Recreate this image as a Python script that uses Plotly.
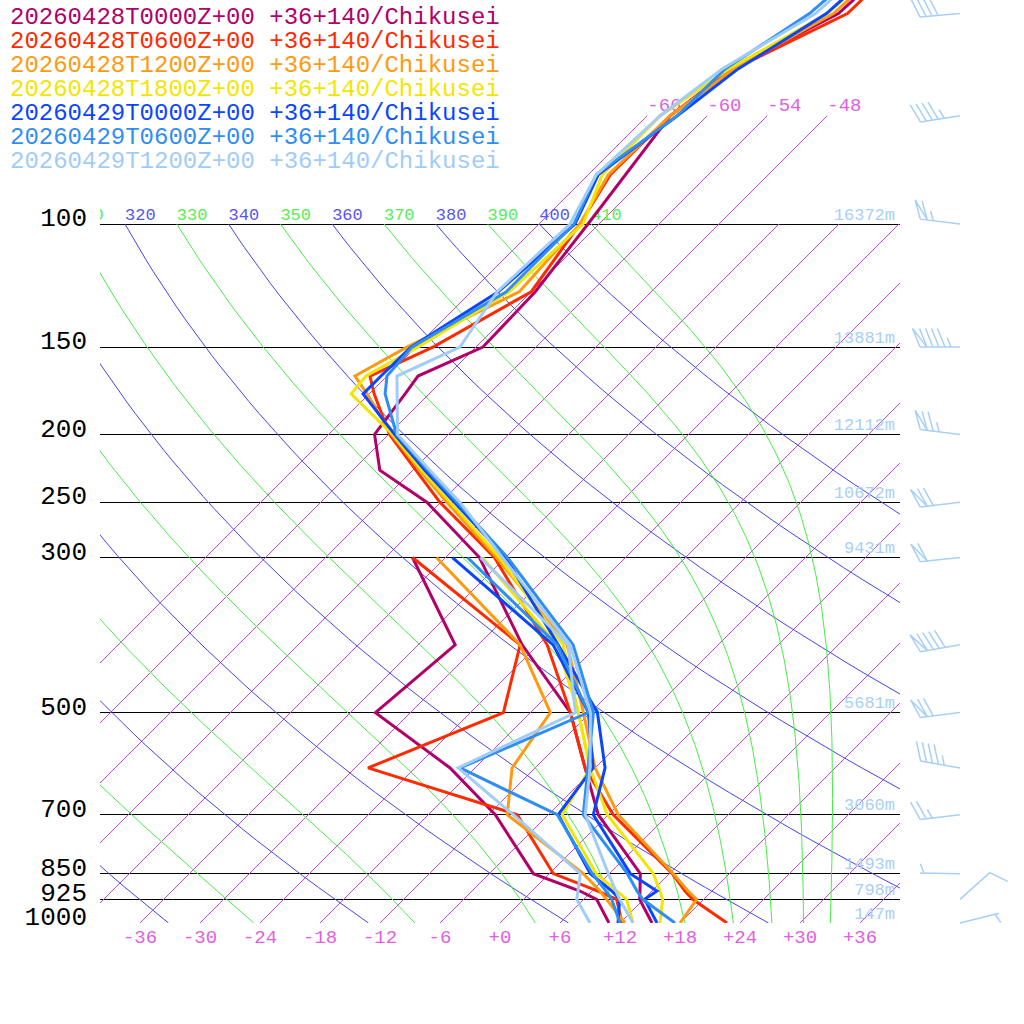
import numpy as np
import plotly.graph_objects as go

# pressure levels (hPa) of the temperature profiles
LEVELS = [1000, 925, 900, 850, 700, 600, 500, 400, 300, 250, 225, 200,
          175, 165, 150, 125, 100, 85, 70, 60, 50, 30]
# dew point is only given up to 300 hPa
DEW_LEVELS = [1000, 925, 900, 850, 700, 600, 500, 400, 300]

RUNS = ["20260428T0000Z+00", "20260428T0600Z+00", "20260428T1200Z+00",
        "20260428T1800Z+00", "20260429T0000Z+00", "20260429T0600Z+00",
        "20260429T1200Z+00"]
STATION = "+36+140/Chikusei"
COLORS = ["#b0006a", "#ff2a00", "#ff9a10", "#f2e600", "#0a46ff", "#2e8ef2", "#a2ccf8"]

# temperature (C)
T_0428_00 = [15.2, 11.6, 10.8, 9.1, -1.0, -7.0, -14.0, -25.6, -38.6, -49.4, -57.3, -61.4,
             -62.4, -62.9, -59.3, -59.6, -61.1, -62.3, -63.7, -62.3, -57.1, -55.5]
T_0428_06 = [22.7, 16.9, 15.3, 12.3, 0.5, -7.0, -14.0, -23.1, -37.1, -48.1, -53.7, -59.9,
             -65.5, -67.7, -64.3, -60.0, -61.9, -63.8, -63.7, -62.0, -56.2, -55.5]
T_0428_12 = [18.0, 17.3, 15.6, 12.4, 1.0, -6.0, -12.7, -21.1, -36.9, -47.4, -53.3, -59.7,
             -66.2, -69.2, -66.9, -61.2, -61.9, -64.0, -63.7, -62.0, -57.6, -56.0]
T_0428_18 = [16.0, 13.9, 12.8, 10.4, -0.1, -6.5, -13.2, -21.5, -36.6, -47.1, -53.1, -59.6,
             -67.8, -68.1, -65.8, -62.2, -61.6, -64.6, -64.7, -62.5, -58.2, -56.5]
T_0429_00 = [15.7, 12.1, 12.5, 8.1, -1.5, -5.0, -11.3, -22.0, -36.0, -46.6, -52.8, -59.4,
             -66.6, -66.6, -66.5, -63.3, -62.4, -65.0, -63.0, -61.6, -58.3, -56.5]
T_0429_06 = [17.5, 11.9, 10.5, 7.8, -2.5, -6.7, -11.7, -20.5, -35.8, -46.4, -52.5, -59.2,
             -64.4, -66.0, -66.4, -62.5, -62.5, -65.2, -63.0, -62.9, -60.0, -57.5]
T_0429_12 = [13.3, 9.6, 8.4, 5.9, -2.3, -6.5, -12.0, -20.8, -36.3, -46.1, -52.3, -59.1,
             -63.2, -65.0, -61.6, -63.4, -62.9, -65.2, -64.7, -63.2, -59.4, -57.5]

# dew point (C)
TD_0428_00 = [10.9, 7.3, 4.8, -1.6, -11.3, -20.5, -33.5, -32.3, -45.3]
TD_0428_06 = [12.2, 9.3, 6.6, 0.4, -9.1, -28.7, -20.7, -25.8, -45.3]
TD_0428_12 = [12.5, 8.3, 6.8, 3.4, -10.1, -14.3, -16.0, -25.8, -42.9]
TD_0428_18 = [13.3, 10.3, 8.5, 4.7, -4.6, -6.5, -13.2, -22.1, -38.3]
TD_0429_00 = [11.8, 9.6, 8.0, 4.1, -5.0, -6.2, -12.2, -22.5, -41.3]
TD_0429_06 = [12.0, 8.8, 7.4, 4.3, -5.1, -19.5, -12.2, -22.1, -39.8]
TD_0429_12 = [9.0, 5.3, 4.6, 3.1, -9.5, -19.7, -13.5, -21.0, -38.5]

TEMPS = [T_0428_00, T_0428_06, T_0428_12, T_0428_18, T_0429_00, T_0429_06, T_0429_12]
DEWS = [TD_0428_00, TD_0428_06, TD_0428_12, TD_0428_18, TD_0429_00, TD_0429_06, TD_0429_12]

# winds of the last run (direction deg, speed kt)
WIND_LEVELS = [1000, 925, 850, 700, 600, 500, 400, 300, 250, 200, 150, 100, 70, 50]
WIND_DIR = [76, 48, 271, 263, 280, 263, 260, 264, 263, 277, 270, 277, 261, 265]
WIND_KT = [5, 10, 5, 25, 45, 70, 90, 60, 70, 75, 95, 65, 45, 40]

# geopotential height labels
HEIGHT_LEVELS = [1000, 925, 850, 700, 500, 300, 250, 200, 150, 100]
HEIGHTS = [147, 798, 1493, 3060, 5681, 9431, 10672, 12112, 13881, 16372]

ISOBARS = [100, 150, 200, 250, 300, 500, 700, 850, 925, 1000]
ISOTHERMS = list(range(-66, 37, 6))
DRY_THETA = list(range(240, 401, 20))
MOIST_THETA = list(range(250, 411, 20))

MONO = "Liberation Mono"
SKEW = 69.9          # x shift (deg) per decade of pressure
LOG_TOP = 2 - 224 / 699
KAPPA = 0.2857


def skew_x(t, p):
    return np.asarray(t, float) + SKEW * np.log10(1000 / np.asarray(p, float))


def join(lines):
    xs, ys = [], []
    for x, y in lines:
        xs += list(x) + [None]
        ys += list(y) + [None]
    return xs, ys


def moist_lapse(t, p):
    es = 6.112 * np.exp(17.67 * (t - 273.15) / (t - 29.65))
    rs = 0.622 * es / (p - es)
    lv, rd, cp = 2.501e6, 287.04, 1005.7
    return (rd * t + lv * rs) / (p * (cp + lv ** 2 * rs * 0.622 / (rd * t ** 2)))


def moist_adiabat(theta):
    p = np.linspace(100, 1000, 300)
    t = theta * 0.1 ** KAPPA
    out = [t]
    for i in range(1, len(p)):
        dp = p[i] - p[i - 1]
        k1 = moist_lapse(t, p[i - 1])
        k2 = moist_lapse(t + k1 * dp, p[i])
        t = t + 0.5 * (k1 + k2) * dp
        out.append(t)
    return p, np.array(out) - 273.15


fig = go.Figure()

# isotherms
iso = []
for t in ISOTHERMS:
    p = np.array([1000, 70 if t <= -48 else 100])
    iso.append((skew_x([t, t], p), p))
x, y = join(iso)
fig.add_trace(go.Scatter(x=x, y=y, mode="lines", line=dict(color="#cc44dd", width=1),
                         hoverinfo="skip"))

# dry adiabats
dry = []
for th in DRY_THETA:
    p = np.geomspace(1000, 100, 60)
    dry.append((skew_x(th * (p / 1000) ** KAPPA - 273.15, p), p))
x, y = join(dry)
fig.add_trace(go.Scatter(x=x, y=y, mode="lines", line=dict(color="#4444ee", width=1),
                         hoverinfo="skip"))

# moist adiabats
moist = []
for th in MOIST_THETA:
    p, t = moist_adiabat(th)
    moist.append((skew_x(t, p), p))
x, y = join(moist)
fig.add_trace(go.Scatter(x=x, y=y, mode="lines", line=dict(color="#44ee44", width=1),
                         hoverinfo="skip"))

# labels of the adiabats at 100 hPa
fig.add_trace(go.Scatter(
    x=skew_x(np.array(DRY_THETA) * 0.1 ** KAPPA - 273.15, [100] * len(DRY_THETA)),
    y=[100] * len(DRY_THETA), mode="text", text=[str(v) for v in DRY_THETA],
    textposition="top right", textfont=dict(family=MONO, size=17, color="#5656f0"),
    hoverinfo="skip"))
fig.add_trace(go.Scatter(
    x=[m[0][0] for m in moist], y=[100] * len(MOIST_THETA), mode="text",
    text=[str(v) for v in MOIST_THETA], textposition="top right",
    textfont=dict(family=MONO, size=17, color="#55ee55"), hoverinfo="skip"))

# isotherm labels at the top
top_t = [t for t in ISOTHERMS if t <= -48]
fig.add_trace(go.Scatter(
    x=skew_x(top_t, [70] * len(top_t)), y=[70] * len(top_t), mode="text",
    text=[str(t) for t in top_t], textposition="top right",
    textfont=dict(family=MONO, size=19, color="#e060e0"), hoverinfo="skip"))

# height labels
fig.add_trace(go.Scatter(
    x=[39.5] * len(HEIGHTS), y=HEIGHT_LEVELS, mode="text",
    text=[f"{h}m" for h in HEIGHTS], textposition="top left",
    textfont=dict(family=MONO, size=17, color="#a8cff8"), hoverinfo="skip"))

# soundings
for run, color, temp, dew in zip(RUNS, COLORS, TEMPS, DEWS):
    fig.add_trace(go.Scatter(x=skew_x(temp, LEVELS), y=LEVELS, mode="lines",
                             line=dict(color=color, width=3), name=run))
    fig.add_trace(go.Scatter(x=skew_x(dew, DEW_LEVELS), y=DEW_LEVELS, mode="lines",
                             line=dict(color=color, width=3), name=run))


# wind barbs, drawn in pixel offsets from the station point
def barb(direction, speed):
    d = np.radians(direction)
    u = np.array([np.sin(d), np.cos(d)])
    perp = np.array([u[1], -u[0]])
    f = np.cos(np.radians(22)) * perp + np.sin(np.radians(22)) * u
    segs = [[np.zeros(2), 40 * u]]
    pos = 40.0
    n50, rest = divmod(int(speed), 50)
    n10, rest = divmod(rest, 10)
    for _ in range(n50):
        segs.append([pos * u, pos * u + 20 * f, (pos - 7) * u])
        pos -= 7
    for _ in range(n10):
        segs.append([pos * u, pos * u + 20 * f])
        pos -= 6
    if rest >= 5:
        if speed < 10:
            pos -= 4
        segs.append([pos * u, pos * u + 10 * f])
    return segs


bx, by = [], []
for lev, wd, ws in zip(WIND_LEVELS, WIND_DIR, WIND_KT):
    for seg in barb(wd, ws):
        for pt in seg:
            bx.append(46 + pt[0] / 10)
            by.append(10 ** (np.log10(lev) - pt[1] / 699))
        bx.append(None)
        by.append(None)
fig.add_trace(go.Scatter(x=bx, y=by, mode="lines", xaxis="x2", yaxis="y2",
                         line=dict(color="#a8cff8", width=1.5), hoverinfo="skip"))

# run legend
for i, (run, color) in enumerate(zip(RUNS, COLORS)):
    fig.add_annotation(x=8 / 1024, y=1 - (17 + 24 * i) / 1024, xref="paper", yref="paper",
                       xanchor="left", yanchor="middle", showarrow=False,
                       text=f"{run} {STATION}",
                       font=dict(family=MONO, size=24, color=color))

fig.update_layout(
    width=1024, height=1024,
    margin=dict(l=0, r=0, t=0, b=0),
    paper_bgcolor="white", plot_bgcolor="rgba(0,0,0,0)",
    showlegend=False,
    xaxis=dict(domain=[100 / 1024, 900 / 1024], range=[-40, 40],
               tickvals=ISOTHERMS[5:], ticktext=[f"{t:+d}" for t in ISOTHERMS[5:]],
               tickfont=dict(family=MONO, size=19, color="#e060e0"),
               showgrid=False, zeroline=False, showline=False, ticks="",
               automargin=False),
    yaxis=dict(domain=[101 / 1024, 1], type="log", range=[3, LOG_TOP],
               tickvals=ISOBARS, ticktext=[str(p) for p in ISOBARS],
               tickfont=dict(family=MONO, size=26, color="black"),
               showgrid=True, gridcolor="black", gridwidth=1.3,
               zeroline=False, showline=False, ticks="",
               ticklabelstandoff=12, ticklabelshift=7, automargin=False),
    xaxis2=dict(domain=[0, 1], range=[-50, 52.4], anchor="y2", visible=False),
    yaxis2=dict(domain=[0, 1], type="log", range=[3 + 101 / 699, LOG_TOP],
                anchor="x2", visible=False),
)

# the page body has a default 8px margin; drop it so the figure sits at the corner
fig.write_html("out.html", config={"displayModeBar": False},
               post_script="document.body.style.margin='0';")
